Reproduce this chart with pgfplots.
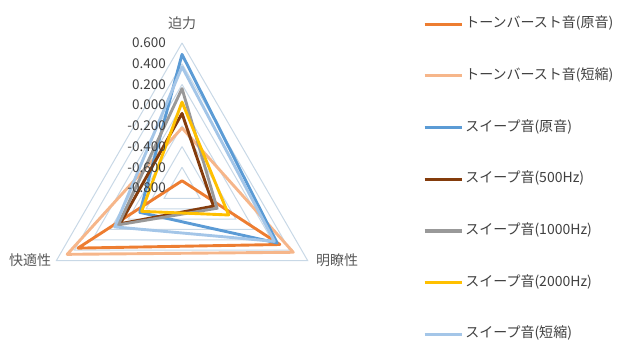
\documentclass[border=0pt]{standalone}
\usepackage{fontspec}
\setmainfont{Noto Sans CJK JP}
\usepackage{pgfplots}
\usepackage{pgfplotstable}
\pgfplotsset{compat=1.18}

\definecolor{cA}{HTML}{ED7D31}
\definecolor{cB}{HTML}{F6B68A}
\definecolor{cC}{HTML}{5B9BD5}
\definecolor{cD}{HTML}{843C0C}
\definecolor{cE}{HTML}{999999}
\definecolor{cF}{HTML}{FFC000}
\definecolor{cG}{HTML}{A4C6E8}
\definecolor{gridc}{RGB}{200,216,230}
\definecolor{txt}{HTML}{404040}
\definecolor{cat}{HTML}{595959}

\newcommand\f{\fontsize{13.5bp}{16bp}\selectfont}
\newcommand\fl{\fontsize{14bp}{16bp}\selectfont}

% angle: 90 = 迫力, 330 = 明瞭性, 210 = 快適性 ; v = value
\pgfplotstableread{
ang v
90 -0.73
330 0.29
210 0.36
90 -0.73
}\tbA
\pgfplotstableread{
ang v
90 -0.22
330 0.44
210 0.48
90 -0.22
}\tbB
\pgfplotstableread{
ang v
90 0.49
330 0.26
210 -0.33
90 0.49
}\tbC
\pgfplotstableread{
ang v
90 -0.08
330 -0.45
210 -0.11
90 -0.08
}\tbD
\pgfplotstableread{
ang v
90 0.16
330 -0.41
210 -0.09
90 0.16
}\tbE
\pgfplotstableread{
ang v
90 0.03
330 -0.28
210 -0.35
90 0.03
}\tbF
\pgfplotstableread{
ang v
90 0.37
330 0.23
210 -0.05
90 0.37
}\tbG
\pgfplotstableread{
ang v
90 0
330 0
210 0
90 0
}\ringtab

\begin{document}
\begin{tikzpicture}
\begin{axis}[
  x=103.57bp, y=103.57bp,
  xmin=-1.757, xmax=4.237, ymin=-1.497, ymax=1.815,
  hide axis, clip=false,
  legend cell align=left,
  legend style={at={(axis cs:2.327,1.645)}, anchor=north west, draw=none, fill=none,
    inner sep=0pt, outer sep=0pt, row sep=38.7bp, column sep=2bp, font=\fl, text=txt,
    nodes={inner sep=0pt, text height=10bp, text depth=3bp}},
  legend image code/.code={\draw[#1, line width=3.2bp, line cap=butt] (0bp,0bp) -- (37bp,0bp);},
  series/.style={line width=2.9bp, line join=round, line cap=round},
]
\pgfplotsinvokeforeach{0.2,0.4,0.6,0.8,1.0,1.2,1.4}{
  \addplot[gridc, line width=1bp, forget plot] table[x expr={#1*cos(\thisrow{ang})}, y expr={#1*sin(\thisrow{ang})}] {\ringtab};
}
\addplot[series, cA] table[x expr={(\thisrow{v}+0.8)*cos(\thisrow{ang})}, y expr={(\thisrow{v}+0.8)*sin(\thisrow{ang})}] {\tbA};
\addlegendentry{トーンバースト音(原音)}
\addplot[series, cB] table[x expr={(\thisrow{v}+0.8)*cos(\thisrow{ang})}, y expr={(\thisrow{v}+0.8)*sin(\thisrow{ang})}] {\tbB};
\addlegendentry{トーンバースト音(短縮)}
\addplot[series, cC] table[x expr={(\thisrow{v}+0.8)*cos(\thisrow{ang})}, y expr={(\thisrow{v}+0.8)*sin(\thisrow{ang})}] {\tbC};
\addlegendentry{スイープ音(原音)}
\addplot[series, cD] table[x expr={(\thisrow{v}+0.8)*cos(\thisrow{ang})}, y expr={(\thisrow{v}+0.8)*sin(\thisrow{ang})}] {\tbD};
\addlegendentry{スイープ音(500Hz)}
\addplot[series, cE] table[x expr={(\thisrow{v}+0.8)*cos(\thisrow{ang})}, y expr={(\thisrow{v}+0.8)*sin(\thisrow{ang})}] {\tbE};
\addlegendentry{スイープ音(1000Hz)}
\addplot[series, cF] table[x expr={(\thisrow{v}+0.8)*cos(\thisrow{ang})}, y expr={(\thisrow{v}+0.8)*sin(\thisrow{ang})}] {\tbF};
\addlegendentry{スイープ音(2000Hz)}
\addplot[series, cG] table[x expr={(\thisrow{v}+0.8)*cos(\thisrow{ang})}, y expr={(\thisrow{v}+0.8)*sin(\thisrow{ang})}] {\tbG};
\addlegendentry{スイープ音(短縮)}

\begin{scope}[every node/.style={font=\f, text=txt, inner sep=0pt, anchor=east}]
\node at (axis cs:-0.155,1.4) {0.600};
\node at (axis cs:-0.155,1.2) {0.400};
\node at (axis cs:-0.155,1.0) {0.200};
\node at (axis cs:-0.155,0.8) {0.000};
\node at (axis cs:-0.155,0.6) {-0.200};
\node at (axis cs:-0.155,0.4) {-0.400};
\node at (axis cs:-0.155,0.2) {-0.600};
\node at (axis cs:-0.155,0.0) {-0.800};
\end{scope}
\node[font=\fl, text=cat, inner sep=0pt] at (axis cs:0,1.593) {迫力};
\node[font=\fl, text=cat, inner sep=0pt] at (axis cs:-1.467,-0.695) {快適性};
\node[font=\fl, text=cat, inner sep=0pt] at (axis cs:1.496,-0.695) {明瞭性};
\path (rel axis cs:0,0) rectangle (rel axis cs:1,1);
\end{axis}
\end{tikzpicture}
\end{document}
